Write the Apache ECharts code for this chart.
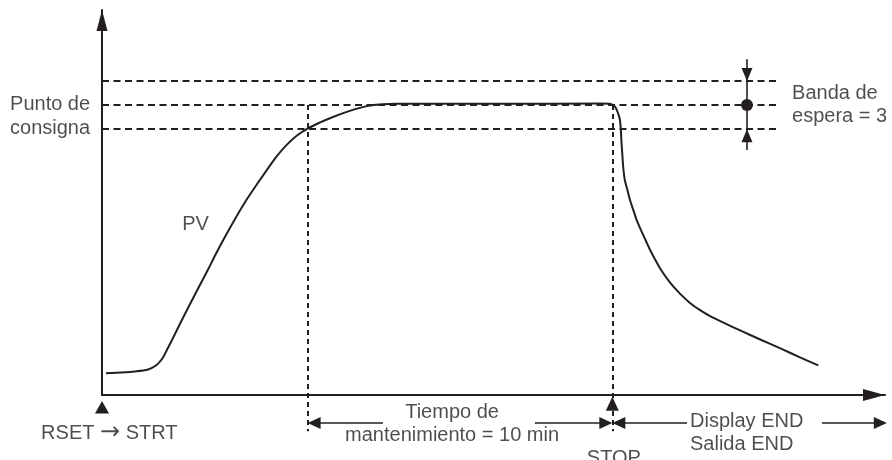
<!DOCTYPE html>
<html>
<head>
<meta charset="utf-8">
<script src="https://cdn.jsdelivr.net/npm/echarts@6/dist/echarts.min.js"></script>
<style>html,body{margin:0;padding:0;background:#fff}#c{width:892px;height:460px}</style>
</head>
<body>
<div id="c"></div>
<script>
// ---- data (time in minutes, process value in arbitrary units) ----
const pvTime  = [0.13, 0.59, 1.08, 1.51, 1.77, 1.97, 2.13, 2.33, 2.59, 2.89, 3.18, 3.48, 3.77, 4.07, 4.40, 4.76, 5.09, 5.42, 5.74, 6.07, 6.40, 6.76, 7.16, 7.58, 8.01, 8.40, 8.80, 9.22, 9.78, 10.44, 13.06, 16.34, 16.67, 16.84, 16.94, 17.00, 17.03, 17.05, 17.08, 17.11, 17.16, 17.25, 17.33, 17.44, 17.55, 17.69, 17.84, 17.99, 18.31, 18.64, 18.97, 19.30, 19.63, 20.02, 20.45, 21.00, 21.66, 22.32, 22.91, 23.51];
const pvValue = [2.69, 2.78, 2.92, 3.17, 3.66, 4.47, 5.59, 7.08, 9.06, 11.30, 13.41, 15.58, 17.75, 19.87, 22.08, 24.33, 26.19, 27.99, 29.67, 31.09, 32.21, 33.10, 33.84, 34.52, 35.12, 35.59, 35.94, 36.11, 36.16, 36.17, 36.17, 36.18, 36.16, 35.79, 34.97, 34.14, 32.89, 31.41, 29.79, 28.18, 26.69, 25.39, 24.21, 22.96, 21.72, 20.48, 19.24, 18.00, 15.78, 13.99, 12.59, 11.43, 10.53, 9.66, 8.89, 7.92, 6.80, 5.69, 4.68, 3.67];
const setpoint = 36;
const waitBand = 3;
const holdStart = 6.75;
const holdMinutes = 10;
const stopTime = holdStart + holdMinutes;
const axisMax = [25.7, 47.8];
const labelTexts = ['Punto de\nconsigna', 'PV', 'Banda de\nespera = 3', 'Tiempo de\nmantenimiento = 10 min', 'RSET \u2192 STRT', 'Display END\nSalida END', 'STOP'];

// ---- chart ----
const INK = '#231f20';
const FONT = 'Liberation Sans';
const bandX = 21.17, refEnd = 22.25, rowY = -3.48, dashLow = -4.5;

const dashed = [
  {coords: [[0, setpoint + waitBand], [refEnd, setpoint + waitBand]]},
  {coords: [[0, setpoint], [refEnd, setpoint]]},
  {coords: [[0, setpoint - waitBand], [refEnd, setpoint - waitBand]]}
];
const vdashed = [
  {coords: [[holdStart, setpoint], [holdStart, dashLow]]},
  {coords: [[stopTime, setpoint], [stopTime, dashLow]]}
];
const shafts = [
  {coords: [[9.22, rowY], [holdStart + 0.2, rowY]]},
  {coords: [[14.21, rowY], [stopTime - 0.2, rowY]]},
  {coords: [[19.2, rowY], [stopTime + 0.2, rowY]]},
  {coords: [[23.63, rowY], [25.56, rowY]]},
  {coords: [[bandX, 41.7], [bandX, 30.41]]}
];
const heads = [
  {value: [holdStart, rowY], symbolRotate: 90, symbolOffset: [6.5, 0]},
  {value: [stopTime, rowY], symbolRotate: -90, symbolOffset: [-6.5, 0]},
  {value: [stopTime, rowY], symbolRotate: 90, symbolOffset: [6.5, 0]},
  {value: [25.76, rowY], symbolRotate: -90, symbolOffset: [-6.5, 0]},
  {value: [bandX, setpoint + waitBand], symbolRotate: 180, symbolOffset: [0, -6.5], symbolSize: [11, 13]},
  {value: [bandX, setpoint - waitBand], symbolRotate: 0, symbolOffset: [0, 6.5], symbolSize: [11, 13]},
  {value: [stopTime, -0.21], symbolRotate: 0, symbolSize: [13, 14], symbolOffset: [0, 7]},
  {value: [0, -0.74], symbolRotate: 0, symbolSize: [14, 12.6], symbolOffset: [0, 6.3]}
];
const textAnchors = [
  {pos: [-0.39, 34.55], align: 'right'},
  {pos: [3.07, 21.14], align: 'center'},
  {pos: [22.65, setpoint], align: 'left'},
  {pos: [11.49, -3.6], align: 'center'},
  {pos: [0.24, -4.72], align: 'center'},
  {pos: [19.3, -4.72], align: 'left'},
  {pos: [16.8, -7.85], align: 'center'}
];

const chart = echarts.init(document.getElementById('c'), null, {renderer: 'canvas'});
chart.setOption({
  animation: false,
  backgroundColor: '#ffffff',
  grid: {left: 102, right: 7, top: 10, bottom: 65},
  xAxis: {
    type: 'value', min: 0, max: axisMax[0],
    axisLine: {show: true, onZero: false, symbol: ['none', 'triangle'], symbolSize: [12, 22], symbolOffset: [0, -11], lineStyle: {color: INK, width: 2}},
    axisTick: {show: false}, axisLabel: {show: false}, splitLine: {show: false}
  },
  yAxis: {
    type: 'value', min: 0, max: axisMax[1],
    axisLine: {show: true, onZero: false, symbol: ['none', 'triangle'], symbolSize: [11, 21], symbolOffset: [0, -10.5], lineStyle: {color: INK, width: 2}},
    axisTick: {show: false}, axisLabel: {show: false}, splitLine: {show: false}
  },
  series: [
    {type: 'lines', coordinateSystem: 'cartesian2d', clip: false, silent: true, z: 1,
      lineStyle: {color: INK, width: 1.8, type: [7, 4.5], opacity: 1}, data: dashed},
    {type: 'lines', coordinateSystem: 'cartesian2d', clip: false, silent: true, z: 1,
      lineStyle: {color: INK, width: 2, type: [5, 4], opacity: 1}, data: vdashed},
    {type: 'lines', coordinateSystem: 'cartesian2d', clip: false, silent: true, z: 2,
      lineStyle: {color: INK, width: 1.6, opacity: 1}, data: shafts},
    {type: 'line', name: 'PV', clip: false, silent: true, z: 3, symbol: 'none', smooth: 0.3,
      lineStyle: {color: INK, width: 2}, data: pvTime.map((t, i) => [t, pvValue[i]])},
    {type: 'scatter', clip: false, silent: true, z: 4, symbol: 'triangle', symbolSize: [12, 13],
      itemStyle: {color: INK, opacity: 1}, data: heads},
    {type: 'scatter', clip: false, silent: true, z: 4, symbol: 'circle', symbolSize: 12,
      itemStyle: {color: INK, opacity: 1}, data: [[bandX, setpoint]]},
    {type: 'scatter', clip: false, silent: true, z: 5, symbolSize: 0,
      data: textAnchors.map((a, i) => ({
        name: labelTexts[i], value: a.pos,
        label: {show: true, position: 'inside',
          formatter: () => labelTexts[i].replace('\u2192', '{ar|\u2192}'),
          align: a.align, verticalAlign: 'middle',
          color: INK, fontFamily: FONT, fontSize: 20, lineHeight: 23.5,
          rich: {ar: {fontFamily: 'DejaVu Sans', fontSize: 24, color: INK, lineHeight: 23.5}}}
      }))}
  ]
});
</script>
</body>
</html>
